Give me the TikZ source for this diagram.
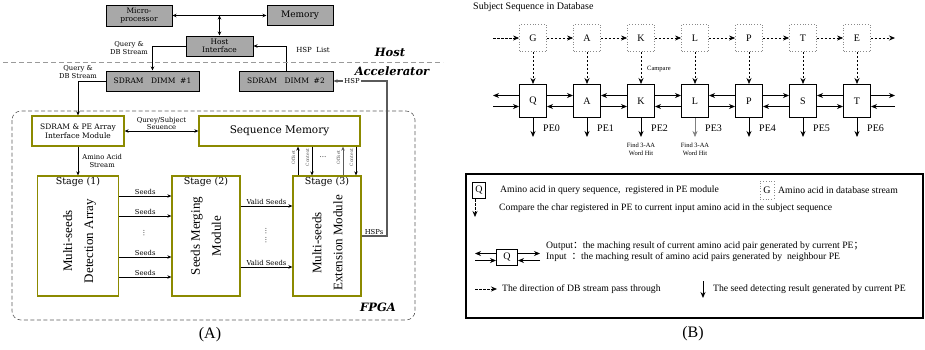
\documentclass[tikz,border=0pt]{standalone}
\usepackage{fontspec}
\setmainfont{Liberation Serif}
\newfontfamily\boxfont{DejaVu Serif}
\newfontfamily\cjkfont{Noto Sans CJK SC}
\usetikzlibrary{arrows.meta, positioning, calc}
\definecolor{hostGray}{HTML}{A8A8A8}
\definecolor{fpgaOlive}{HTML}{8C8A00}
\definecolor{lineGray}{HTML}{5A5A5A}
\definecolor{dashGray}{HTML}{9A9A9A}
\definecolor{dotGray}{HTML}{8A8A8A}
\tikzset{
  arrowK/.style={-{Stealth[length=4pt, width=3.5pt]}, line width=0.9pt},
  arrowKK/.style={{Stealth[length=4pt, width=3.5pt]}-{Stealth[length=4pt, width=3.5pt]}, line width=0.9pt},
  hostbox/.style={rectangle, draw=black, fill=hostGray, line width=1pt, align=center,
                  inner sep=1pt, font=\boxfont\fontsize{7.5}{8.5}\selectfont},
  modbox/.style={rectangle, draw=fpgaOlive, line width=1.3pt, fill=white, align=center, inner sep=1pt},
  stagebox/.style={modbox, minimum height=120pt},
  stagelbl/.style={font=\boxfont\fontsize{9.5}{10}\selectfont, inner sep=2pt},
  lblA/.style={font=\boxfont\fontsize{6.8}{7.4}\selectfont, align=center, inner sep=1pt},
  tinyrot/.style={rotate=90, font=\boxfont\fontsize{4.5}{5}\selectfont, text=lineGray, inner sep=0pt},
  tagA/.style={font=\boxfont\bfseries\itshape\fontsize{11.5}{12}\selectfont},
  bigrot/.style={rotate=90, align=center, font=\fontsize{13}{21}\selectfont},
  dbbox/.style={rectangle, draw=dotGray, dotted, line width=0.8pt, minimum width=27pt,
                minimum height=27pt, font=\fontsize{10}{10}\selectfont},
  pebox/.style={rectangle, draw=black, line width=1pt, minimum width=27pt, minimum height=33pt,
                font=\fontsize{10}{10}\selectfont, inner sep=0pt},
  pelbl/.style={font=\fontsize{10}{10}\selectfont, inner sep=0pt},
  smallB/.style={font=\fontsize{6.5}{8}\selectfont, inner sep=0pt, align=center},
  fwd/.style={-{Stealth[length=6pt, width=5pt]}, line width=0.9pt},
  bwd/.style={{Stealth[length=6pt, width=5pt]}-, line width=0.9pt},
  dashA/.style={-{Stealth[length=6pt, width=5pt]}, line width=0.7pt, dash pattern=on 2.5pt off 1.5pt},
  txtB/.style={font=\fontsize{9.7}{11}\selectfont, anchor=west, inner sep=0pt},
}
\begin{document}
\begin{tikzpicture}[x=1pt, y=-1pt]
  \useasboundingbox (0,0) rectangle (925,349);
  % (A) host side
  \node[hostbox, minimum width=66pt, minimum height=21pt] (micro) at (139,15.5) {Micro-\\processor};
  \node[hostbox, minimum width=66pt, minimum height=20pt,
        font=\boxfont\fontsize{9}{9}\selectfont] (mem) at (300,15.5) {Memory};
  \node[hostbox, minimum width=67pt, minimum height=20pt] (hif) at (219.5,46) {Host\\Interface};
  \node[hostbox, minimum width=93pt, minimum height=20pt] (dimm1) at (152.5,81) {SDRAM\quad DIMM\ \ \#1};
  \node[hostbox, minimum width=94pt, minimum height=20pt] (dimm2) at (286,81) {SDRAM\quad DIMM\ \ \#2};
  \draw[arrowKK] (micro) -- (mem);
  \draw[arrowKK] (hif.north |- micro.east) -- (hif.north);
  \draw[arrowK] (hif.west) -| (dimm1.north);
  \draw[arrowK] (dimm2.north) |- (hif.east);
  \node[lblA] at (129,48) {Query \&\\DB Stream};
  \node[lblA, font=\boxfont\fontsize{7}{7}\selectfont] at (313,50) {HSP\ \ List};
  \node[tagA] at (390,52) {Host};
  \draw[dashGray, line width=0.9pt, dash pattern=on 5pt off 3pt] (3,62) -- (443,62);
  \node[tagA] at (392,71) {Accelerator};
  % FPGA
  \draw[lineGray, line width=0.6pt, dash pattern=on 4pt off 2.5pt, rounded corners=9pt] (12,111) rectangle (415,320);
  \node[tagA] at (378,307) {FPGA};
  \node[modbox, minimum width=92pt, minimum height=30pt,
        font=\boxfont\fontsize{7.5}{9}\selectfont] (pei) at (78,131) {SDRAM \& PE Array\\Interface Module};
  \node[modbox, minimum width=161pt, minimum height=30pt,
        font=\boxfont\fontsize{10.5}{11}\selectfont] (seqm) at (279.5,131) {Sequence Memory};
  \draw[arrowK] (dimm1.west) -| (pei.north);
  \node[lblA] at (78,72) {Query \&\\DB Stream};
  \draw[arrowKK] (pei) -- (seqm) node[midway, above, lblA] {Qurey/Subject\\Seuence};
  \node[stagebox, minimum width=81pt] (st1) at (78,236) {};
  \node[stagebox, minimum width=68pt] (st2) at (206,236) {};
  \node[stagebox, minimum width=68pt] (st3) at (327,236) {};
  \foreach \s/\k in {st1/1, st2/2, st3/3}
    \node[stagelbl, below] at (\s.north) {Stage (\k)};
  \draw[arrowK] (pei) -- (st1) node[midway, right, lblA, xshift=3pt] {Amino Acid\\Stream};
  \node[bigrot] at (79.5,241) {Multi-seeds\\Detection Array};
  \node[bigrot] at (206,236) {Seeds Merging\\Module};
  \node[bigrot] at (327.5,243) {Multi-seeds\\Extension Module};
  \foreach \dy in {40,20,-21,-41}
    \draw[arrowK] ([yshift=\dy pt]st1.east) -- ([yshift=\dy pt]st2.west) node[midway, above, lblA] {Seeds};
  \node[lblA, rotate=90] at (144,233) {\dots};
  \foreach \dy in {30,-31}
    \draw[arrowK] ([yshift=\dy pt]st2.east) -- ([yshift=\dy pt]st3.west) node[midway, above, lblA] {Valid Seeds};
  \node[lblA, rotate=90] at (266,236) {\dots\ \dots};
  \foreach \dx/\col in {-29/black, 16/lineGray}
    \draw[arrowK, \col] ([xshift=\dx pt]st3.north) -- ([xshift=\dx pt]st3.north |- seqm.south);
  \foreach \dx in {-15,29}
    \draw[arrowK] ([xshift=\dx pt]st3.north |- seqm.south) -- ([xshift=\dx pt]st3.north);
  \foreach \dx/\t in {-33.5/Offset, -19.5/Context, 11.5/Offset, 24.5/Context}
    \node[tinyrot] at ($(st3.north)+(\dx,-18)$) {\t};
  \node[lblA] at ($(st3.north)+(-4,-18)$) {\dots};
  \coordinate (hspturn) at (387,236);
  \draw[arrowK, lineGray, line width=1.4pt] (st3.east) -- (hspturn) |- (dimm2.east);
  \node[lblA, fill=white] at (352,81) {HSP};
  \node[lblA, above] at (374,236) {HSPs};
  \node[font=\fontsize{16}{16}\selectfont] at (210,335) {(A)};
  % (B) PE array
  \node[font=\fontsize{10}{10}\selectfont, anchor=west, inner sep=0pt] (title) at (473,7) {Subject Sequence in Database};
  \coordinate (dbin) at (493,38);   \coordinate (dbout) at (895,38);
  \coordinate (lup) at (493,95.5);  \coordinate (llo) at (493,106.5);
  \coordinate (rup) at (895,95.5);  \coordinate (rlo) at (895,106.5);
  \foreach \i/\s/\q in {0/G/Q, 1/A/A, 2/K/K, 3/L/L, 4/P/P, 5/T/S, 6/E/T} {
    \node[dbbox] (db\i) at (533+54*\i,38) {\s};
    \node[pebox] (pe\i) at (533+54*\i,101) {\q};
    \coordinate (out\i) at (533+54*\i,137);
    \draw[dashA] (db\i) -- (pe\i);
    \node[pelbl, anchor=west] at ([xshift=-4pt, yshift=-10pt]pe\i.south east) {PE\i};
  }
  \draw[dashA] (dbin) -- (db0);
  \foreach \i/\j in {0/1, 1/2, 2/3, 3/4, 4/5, 5/6}
    \draw[dashA] (db\i) -- (db\j);
  \draw[dashA] (db6) -- (dbout);
  \foreach \i in {0,1,2,4,5,6}
    \draw[fwd] (pe\i) -- (out\i);
  \draw[fwd, gray, line width=0.6pt] (pe3) -- (out3);
  \foreach \i/\j/\up/\lo in {0/1/fwd/bwd, 1/2/bwd/fwd, 2/3/fwd/bwd, 3/4/bwd/fwd, 4/5/fwd/bwd, 5/6/bwd/fwd} {
    \draw[\up] ([yshift=5.5pt]pe\i.east) -- ([yshift=5.5pt]pe\j.west);
    \draw[\lo] ([yshift=-5.5pt]pe\i.east) -- ([yshift=-5.5pt]pe\j.west);
  }
  \draw[fwd] ([yshift=5.5pt]pe0.west) -- (lup);
  \draw[fwd] (llo) -- ([yshift=-5.5pt]pe0.west);
  \draw[fwd] ([yshift=5.5pt]pe6.east) -- (rup);
  \draw[fwd] (rlo) -- ([yshift=-5.5pt]pe6.east);
  \node[smallB, anchor=west] at (647,69) {Campare};
  \foreach \i in {2,3}
    \node[smallB, anchor=north] at ([yshift=-6pt]out\i) {Find 3-AA\\Word Hit};
  % legend
  \node[draw, line width=1.2pt, minimum width=457pt, minimum height=144pt, inner sep=0pt] (legend) at (694.5,246) {};
  \node[pebox, minimum width=13pt, minimum height=16pt] (keyq) at (479,190) {Q};
  \node[txtB] at (500,190) {Amino acid in query sequence,\ \ registered in PE module};
  \node[dbbox, minimum width=12pt, minimum height=18pt] (keyg) at (767,190) {G};
  \node[txtB] at (778,190) {Amino acid in database stream};
  \coordinate (cmpA) at (475,199);  \coordinate (cmpB) at (475,217);
  \draw[dashA] (cmpA) -- (cmpB);
  \node[txtB] at (499,208) {Compare the char registered in PE to current input amino acid in the subject sequence};
  \node[pebox, minimum width=21pt, minimum height=16pt] (keyq2) at (507,257) {Q};
  \coordinate (kl1) at (475,253.5);  \coordinate (kl2) at (475,260.5);
  \coordinate (kr1) at (540,253.5);  \coordinate (kr2) at (540,260.5);
  \draw[fwd] ([yshift=3.5pt]keyq2.west) -- (kl1);
  \draw[fwd] (kl2) -- ([yshift=-3.5pt]keyq2.west);
  \draw[fwd] ([yshift=3.5pt]keyq2.east) -- (kr1);
  \draw[fwd] (kr2) -- ([yshift=-3.5pt]keyq2.east);
  \node[txtB] at (546,246) {Output{\cjkfont ：}the maching result of current amino acid pair generated by current PE{\cjkfont ；}};
  \node[txtB] at (546,257) {Input\ \ {\cjkfont ：}the maching result of amino acid pairs generated by\ \ neighbour PE};
  \coordinate (dirA) at (475,289);  \coordinate (dirB) at (497,289);
  \draw[dashA] (dirA) -- (dirB);
  \node[txtB] at (502,289) {The direction of DB stream pass through};
  \coordinate (seedA) at (703,281);  \coordinate (seedB) at (703,298);
  \draw[fwd] (seedA) -- (seedB);
  \node[txtB] at (713,289) {The seed detecting result generated by current PE};
  \node[font=\fontsize{16}{16}\selectfont] at (693,334) {(B)};
\end{tikzpicture}
\end{document}
